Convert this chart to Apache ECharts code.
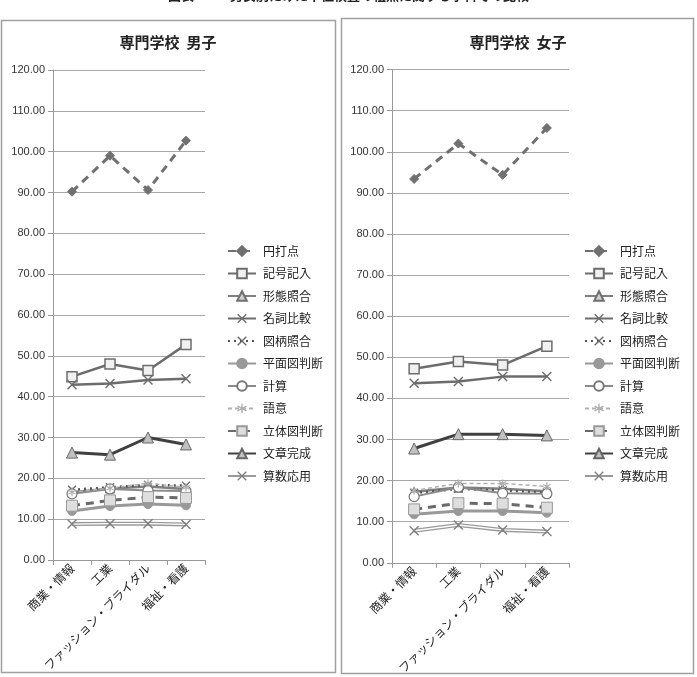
<!DOCTYPE html>
<html><head><meta charset="utf-8">
<script src="https://cdn.jsdelivr.net/npm/echarts@6/dist/echarts.min.js"></script>
<style>html,body{margin:0;padding:0;background:#fff}#c{width:697px;height:677px}</style>
</head><body><div id="c"></div>
<script>
const categories = ['商業・情報','工業','ファッション・ブライダル','福祉・看護'];
const seriesNames = ['円打点','記号記入','形態照合','名詞比較','図柄照合','平面図判断','計算','語意','立体図判断','文章完成','算数応用'];
const yTicks = {min:0, max:120, interval:10};

const male = {
  '円打点':   [90.2, 99.0, 90.6, 102.7],
  '記号記入': [44.9, 48.0, 46.4, 52.8],
  '形態照合': [16.6, 17.5, 18.0, 17.4],
  '名詞比較': [42.9, 43.2, 44.1, 44.4],
  '図柄照合': [17.2, 17.8, 18.4, 18.2],
  '平面図判断': [12.0, 13.2, 13.7, 13.4],
  '計算':     [16.2, 17.4, 17.0, 16.9],
  '語意':     [16.6, 17.6, 18.8, 17.8],
  '立体図判断': [13.3, 14.6, 15.4, 15.2],
  '文章完成': [26.3, 25.8, 30.0, 28.3],
  '算数応用': [8.8, 8.9, 8.9, 8.7]
};
const female = {
  '円打点':   [93.4, 102.0, 94.4, 105.8],
  '記号記入': [47.2, 49.0, 48.1, 52.7],
  '形態照合': [17.3, 18.3, 18.0, 17.4],
  '名詞比較': [43.7, 44.1, 45.3, 45.3],
  '図柄照合': [17.0, 18.0, 17.6, 17.1],
  '平面図判断': [11.8, 12.6, 12.6, 12.2],
  '計算':     [16.1, 18.4, 16.9, 16.8],
  '語意':     [17.6, 19.3, 19.3, 18.6],
  '立体図判断': [13.0, 14.5, 14.4, 13.4],
  '文章完成': [27.8, 31.3, 31.3, 31.0],
  '算数応用': [7.8, 9.2, 8.0, 7.6]
};

const FONT = '"Noto Sans CJK JP", "Noto Sans", sans-serif';
const XPATH = 'path://M1,0 L5,4 L9,0 L10,1 L6,5 L10,9 L9,10 L5,6 L1,10 L0,9 L4,5 L0,1 Z';
const STAR = 'path://M4.3,0 L5.7,0 L5.7,3.6 L9,2 L9.6,3.2 L6.4,5 L9.6,6.8 L9,8 L5.7,6.4 L5.7,10 L4.3,10 L4.3,6.4 L1,8 L0.4,6.8 L3.6,5 L0.4,3.2 L1,2 L4.3,3.6 Z';

const styles = {
  '円打点':   {line:{color:'#707070', width:3, type:[8,6]}, symbol:'diamond', size:9, item:{color:'#707070', borderColor:'#707070', borderWidth:1}},
  '記号記入': {line:{color:'#6c6c6c', width:2.5, type:'solid'}, symbol:'rect', size:10, item:{color:'#f0f0f0', borderColor:'#6c6c6c', borderWidth:1.5}},
  '形態照合': {line:{color:'#808080', width:2.5, type:'solid'}, symbol:'triangle', size:9, item:{color:'#d0d0d0', borderColor:'#707070', borderWidth:1}},
  '名詞比較': {line:{color:'#6c6c6c', width:2.5, type:'solid'}, symbol:XPATH, size:10, item:{color:'#6c6c6c', borderWidth:0}},
  '図柄照合': {line:{color:'#555555', width:2.5, type:[2,4]}, symbol:XPATH, size:9, item:{color:'#666666', borderWidth:0}},
  '平面図判断': {line:{color:'#999999', width:3, type:'solid'}, symbol:'circle', size:9, item:{color:'#999999', borderColor:'#999999', borderWidth:1}},
  '計算':     {line:{color:'#8a8a8a', width:2, type:'solid'}, symbol:'circle', size:10, item:{color:'#ffffff', borderColor:'#777777', borderWidth:1.2}},
  '語意':     {line:{color:'#b0b0b0', width:1.5, type:[4,3]}, symbol:STAR, size:8, item:{color:'#b0b0b0', borderWidth:0}},
  '立体図判断': {line:{color:'#6a6a6a', width:3, type:[8,6]}, symbol:'rect', size:11, item:{color:'#dedede', borderColor:'#999999', borderWidth:1}},
  '文章完成': {line:{color:'#404040', width:3, type:'solid'}, symbol:'triangle', size:11, item:{color:'#c0c0c0', borderColor:'#666666', borderWidth:1}},
  '算数応用': {line:{color:'#9a9a9a', width:4, type:'solid'}, symbol:XPATH, size:10, item:{color:'#808080', borderWidth:0}}
};

const grids = [
  {left:53, top:70, width:152, height:490},
  {left:392, top:69.6, width:177, height:495}
];

function makeSeries(data, idx){
  const out = [];
  seriesNames.forEach(n=>{
    const s = styles[n];
    out.push({
      name:n, type:'line', xAxisIndex:idx, yAxisIndex:idx, data:data[n],
      symbol:s.symbol, symbolSize:s.size, showSymbol:true,
      lineStyle:s.line, itemStyle:s.item, emphasis:{disabled:true}, animation:false
    });
  });
  out.push({
    name:'算数応用_core', type:'line', xAxisIndex:idx, yAxisIndex:idx, data:data['算数応用'],
    symbol:'none', lineStyle:{color:'#ffffff', width:1.3}, z:3, emphasis:{disabled:true}, animation:false, silent:true
  });
  return out;
}

const xAxes = [0,1].map(i=>({
  type:'category', gridIndex:i, data:categories, boundaryGap:true,
  axisLine:{lineStyle:{color:'#999', width:1}},
  axisTick:{show:true, alignWithLabel:false, length:5, lineStyle:{color:'#999'}},
  axisLabel:{rotate:45, fontSize:12, color:'#222', fontFamily:FONT, margin:6, interval:0}
}));
const yAxes = [0,1].map(i=>({
  type:'value', gridIndex:i, min:yTicks.min, max:yTicks.max, interval:yTicks.interval,
  axisLine:{show:true, lineStyle:{color:'#999'}},
  axisTick:{show:true, length:5, lineStyle:{color:'#999'}},
  splitLine:{show:true, lineStyle:{color:'#a8a8a8', width:1}},
  axisLabel:{formatter:v=>v.toFixed(2), fontSize:11, color:'#333', fontFamily:'"Liberation Sans", sans-serif', margin:8}
}));

const legendBase = {
  orient:'vertical', data:seriesNames, itemWidth:28, itemHeight:12, itemGap:10.5,
  textStyle:{fontSize:12, color:'#222', fontFamily:FONT, padding:[0,0,0,2]},
  selectedMode:false
};

const option = {
  animation:false,
  grid:grids,
  xAxis:xAxes,
  yAxis:yAxes,
  legend:[
    Object.assign({}, legendBase, {left:222, top:240}),
    Object.assign({}, legendBase, {left:579, top:240})
  ],
  series: makeSeries(male,0).concat(makeSeries(female,1)),
  graphic:[
    {type:'rect', shape:{x:1.5, y:20.5, width:334, height:652}, style:{fill:'none', stroke:'#a0a0a0', lineWidth:1.5}, silent:true},
    {type:'rect', shape:{x:341.5, y:18.5, width:352, height:655}, style:{fill:'none', stroke:'#a0a0a0', lineWidth:1.5}, silent:true},
    {type:'text', left:'center', top:-11, style:{text:'図表 5-7　男女別にみた下位検査の粗点に関する学科での比較', font:'bold 13px "Noto Sans CJK JP"', fill:'#222'}},
    {type:'text', x:168, y:42, style:{text:'専門学校  男子', font:'bold 15px "Noto Sans CJK JP"', fill:'#222', align:'center', verticalAlign:'middle'}},
    {type:'text', x:518, y:42, style:{text:'専門学校  女子', font:'bold 15px "Noto Sans CJK JP"', fill:'#222', align:'center', verticalAlign:'middle'}}
  ]
};

const chart = echarts.init(document.getElementById('c'), null, {renderer:'canvas'});
chart.setOption(option);
</script>
</body></html>
